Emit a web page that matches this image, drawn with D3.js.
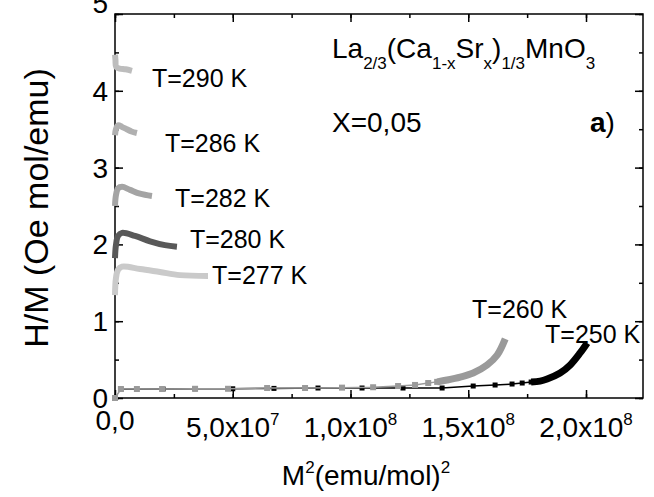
<!DOCTYPE html>
<html>
<head>
<meta charset="utf-8">
<script src="https://cdn.jsdelivr.net/npm/d3@7"></script>
<style>
body { margin: 0; background: #fff; }
text { font-family: "Liberation Sans", Arial, sans-serif; fill: #000; }
</style>
</head>
<body>
<svg></svg>
<script>
const width = 654;
const height = 497;
const plotLeft = 115, plotRight = 643, plotTop = 14, plotBottom = 398;

// data: [M^2 (emu/mol)^2, H/M (Oe mol/emu)]
const t290 = [[0, 4.47], [2e5, 4.40], [5e5, 4.31], [2e6, 4.29], [4.5e6, 4.28], [7.2e6, 4.26]];
const t286 = [[0, 3.42], [4e5, 3.50], [1.3e6, 3.55], [3e6, 3.53], [5e6, 3.50], [7e6, 3.47], [9.3e6, 3.45]];
const t282 = [[0, 2.50], [4e5, 2.64], [1.3e6, 2.73], [3e6, 2.75], [6.4e6, 2.71], [1.06e7, 2.66], [1.57e7, 2.63]];
const t280 = [[0, 1.82], [4e5, 1.99], [1.3e6, 2.11], [3e6, 2.15], [8.5e6, 2.11], [1.49e7, 2.04], [2.12e7, 1.99], [2.63e7, 1.97]];
const t277 = [[0, 1.34], [4e5, 1.56], [1.3e6, 1.67], [3e6, 1.71], [1.06e7, 1.68], [1.91e7, 1.64], [2.76e7, 1.60], [3.95e7, 1.59]];

// low-field points (squares) and high-field dense tails
const t260pts = [[0, 0], [2.5e6, 0.117], [9.3e6, 0.117], [2.0e7, 0.117], [3.4e7, 0.12], [4.8e7, 0.12],
    [6.46e7, 0.13], [8.07e7, 0.13], [9.64e7, 0.135], [1.096e8, 0.14], [1.202e8, 0.156],
    [1.274e8, 0.17], [1.33e8, 0.195], [1.368e8, 0.21]];
const t260tail = [[1.368e8, 0.21], [1.41e8, 0.234], [1.466e8, 0.273], [1.521e8, 0.326],
    [1.58e8, 0.43], [1.623e8, 0.56], [1.657e8, 0.77]];
const t250pts = [[2.5e6, 0.115], [2.04e7, 0.117], [3.4e7, 0.12], [5.0e7, 0.12], [6.75e7, 0.125],
    [8.62e7, 0.13], [1.049e8, 0.13], [1.223e8, 0.13], [1.389e8, 0.13], [1.521e8, 0.156],
    [1.614e8, 0.169], [1.686e8, 0.182], [1.729e8, 0.195], [1.767e8, 0.208]];
const t250tail = [[1.767e8, 0.208], [1.805e8, 0.22], [1.835e8, 0.247], [1.89e8, 0.325],
    [1.933e8, 0.43], [1.975e8, 0.586], [2.005e8, 0.716]];

const labels = ["T=290 K", "T=286 K", "T=282 K", "T=280 K", "T=277 K", "T=260 K", "T=250 K"];
const labelAt = [[1.57e7, 4.05], [2.12e7, 3.20], [2.55e7, 2.49], [3.18e7, 1.95], [4.12e7, 1.48], [1.516e8, 1.04], [1.826e8, 0.716]];

const xMajor = [0, 5e7, 1e8, 1.5e8, 2e8];
const yMajor = [0, 1, 2, 3, 4, 5];

let svg = d3.select("svg")
    .attr("width", width)
    .attr("height", height);

const x = d3.scaleLinear().domain([0, 2.242e8]).range([plotLeft, plotRight]);
const y = d3.scaleLinear().domain([0, 5]).range([plotBottom, plotTop]);

const xMinor = d3.range(0, 2.25e8, 2.5e7);
const yMinor = d3.range(0, 5.01, 0.5);

// рамка
svg.append("rect")
    .attr("x", plotLeft).attr("y", plotTop)
    .attr("width", plotRight - plotLeft).attr("height", plotBottom - plotTop)
    .attr("fill", "none").attr("stroke", "#000").attr("stroke-width", 1.5);

function axisTicks(axis, tr, vals, size) {
    let g = svg.append("g")
        .attr("transform", tr)
        .call(axis.tickValues(vals).tickSize(size).tickFormat(""));
    g.select(".domain").remove();
    g.selectAll("line").attr("stroke", "#000").attr("stroke-width", 1.5);
}
axisTicks(d3.axisBottom(x), `translate(0,${plotBottom})`, xMinor, -4);
axisTicks(d3.axisBottom(x), `translate(0,${plotBottom})`, xMajor, -8);
axisTicks(d3.axisTop(x), `translate(0,${plotTop})`, xMinor, -4);
axisTicks(d3.axisTop(x), `translate(0,${plotTop})`, xMajor, -8);
axisTicks(d3.axisLeft(y), `translate(${plotLeft},0)`, yMinor, -4);
axisTicks(d3.axisLeft(y), `translate(${plotLeft},0)`, yMajor, -8);
axisTicks(d3.axisRight(y), `translate(${plotRight},0)`, yMinor, -4);
axisTicks(d3.axisRight(y), `translate(${plotRight},0)`, yMajor, -8);

// подписи оси Y
svg.append("g").selectAll("text")
    .data(yMajor)
    .enter()
    .append("text")
    .attr("x", 108)
    .attr("y", d => y(d) + (d === 5 ? -1 : 10))
    .attr("text-anchor", "end")
    .style("font-size", "28px")
    .text(d => d);

// подписи оси X
xMajor.forEach(v => {
    let t = svg.append("text")
        .attr("x", x(v))
        .attr("y", v === 0 ? 430 : 437)
        .attr("text-anchor", "middle")
        .style("font-size", "28px");
    if (v === 0) {
        t.text("0,0");
    } else {
        const e = Math.floor(Math.log10(v));
        const m = (v / Math.pow(10, e)).toFixed(1).replace(".", ",");
        t.append("tspan").text(m + "x10");
        t.append("tspan").attr("dy", -12).style("font-size", "17px").text(e);
    }
});

// названия осей
let xt = svg.append("text")
    .attr("x", 366).attr("y", 485)
    .attr("text-anchor", "middle")
    .style("font-size", "28px");
xt.append("tspan").text("M");
xt.append("tspan").attr("dy", -12).style("font-size", "17px").text("2");
xt.append("tspan").attr("dy", 12).text("(emu/mol)");
xt.append("tspan").attr("dy", -12).style("font-size", "17px").text("2");

svg.append("text")
    .attr("transform", "translate(48,208) rotate(-90)")
    .attr("text-anchor", "middle")
    .style("font-size", "34px")
    .text("H/M (Oe mol/emu)");

// кривые
const smooth = d3.line().x(d => x(d[0])).y(d => y(d[1])).curve(d3.curveCatmullRom);
const straight = d3.line().x(d => x(d[0])).y(d => y(d[1]));

function thick(data, color, w) {
    svg.append("path")
        .attr("d", smooth(data))
        .attr("fill", "none")
        .attr("stroke", color)
        .attr("stroke-width", w)
        .attr("stroke-linecap", "butt")
        .attr("stroke-linejoin", "round");
}

thick(t290, "#bdbdbd", 6);
thick(t286, "#b0b0b0", 6);
thick(t282, "#a4a4a4", 6);
thick(t280, "#595959", 6);
thick(t277, "#cacaca", 6);

function squares(data, color, s) {
    svg.append("path")
        .attr("d", straight(data))
        .attr("fill", "none")
        .attr("stroke", color)
        .attr("stroke-width", 1.5);
    svg.append("g").selectAll("rect")
        .data(data)
        .enter()
        .append("rect")
        .attr("x", d => x(d[0]) - s / 2)
        .attr("y", d => y(d[1]) - s / 2)
        .attr("width", s)
        .attr("height", s)
        .attr("fill", color);
}

squares(t250pts, "#000", 5);
thick(t250tail, "#000", 7);
squares(t260pts, "#9a9a9a", 6);
thick(t260tail, "#9a9a9a", 7);

// подписи температур
svg.append("g").selectAll("text")
    .data(labels)
    .enter()
    .append("text")
    .attr("x", (d, i) => x(labelAt[i][0]))
    .attr("y", (d, i) => y(labelAt[i][1]))
    .style("font-size", "25px")
    .text(d => d);

// формула
let f = svg.append("text")
    .attr("x", 332).attr("y", 58)
    .style("font-size", "28px");
const parts = [["La", 0], ["2/3", 1], ["(Ca", 0], ["1-x", 1], ["Sr", 0], ["x", 1], [")", 0], ["1/3", 1], ["MnO", 0], ["3", 1]];
let prev = 0;
parts.forEach(p => {
    f.append("tspan")
        .attr("dy", (p[1] - prev) * 11)
        .style("font-size", p[1] ? "17px" : "28px")
        .text(p[0]);
    prev = p[1];
});

svg.append("text")
    .attr("x", 332).attr("y", 132)
    .style("font-size", "28px")
    .text("X=0,05");

let a = svg.append("text")
    .attr("x", 590).attr("y", 132)
    .style("font-size", "28px");
a.append("tspan").style("font-weight", "bold").text("a");
a.append("tspan").text(")");
</script>
</body>
</html>
